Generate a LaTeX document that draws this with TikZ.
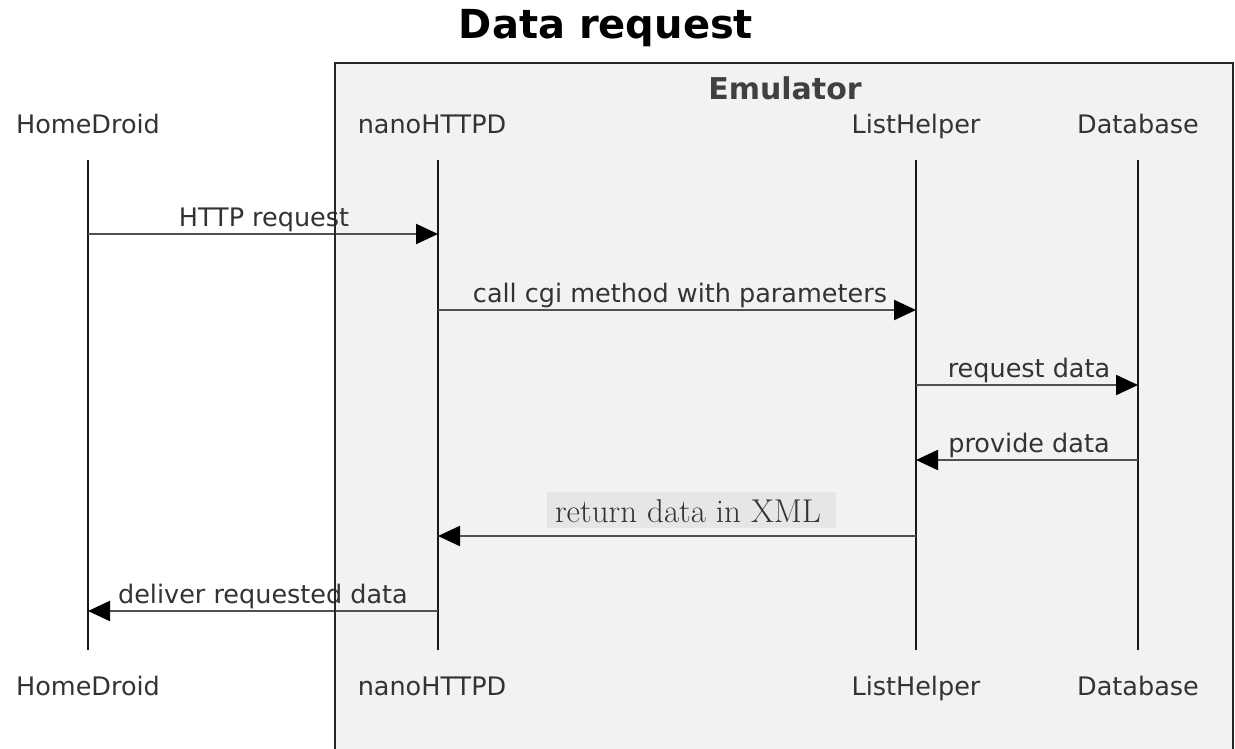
\documentclass[tikz,border=0pt]{standalone}
\usepackage{fontspec}
\setmainfont{DejaVu Sans}
\newfontfamily\lmfont{Latin Modern Roman}
\usetikzlibrary{arrows.meta}
\definecolor{boxfill}{HTML}{F2F2F2}
\definecolor{txt}{HTML}{333333}
\definecolor{msgline}{HTML}{505050}
\definecolor{lblbg}{HTML}{E6E6E6}
\definecolor{emu}{HTML}{404040}
\tikzset{
  actor/.style={font=\fontsize{25.5}{30}\selectfont, text=txt, inner sep=0pt, anchor=base},
  life/.style={draw=black!90, line width=1.6pt},
  msg/.style={draw=msgline, line width=2.2pt, -{Triangle[length=22pt,width=20pt,fill=black,color=black]}},
  msglbl/.style={font=\fontsize{25.5}{30}\selectfont, text=txt, inner sep=0pt, anchor=base},
  frame/.style={draw=black!85, line width=2pt},
}
\begin{document}
\begin{tikzpicture}[x=1pt,y=-1pt]
\useasboundingbox (0,0) rectangle (1235,748);
\fill[white] (0,0) rectangle (1235,748);
% emulator box fill
\fill[boxfill] (335,63) rectangle (1233,760);
% title
\node[font=\fontsize{40}{46}\selectfont\bfseries, text=black, inner sep=0pt, anchor=base] (title) at (606,38) {Data request};
\node[font=\fontsize{30}{34}\selectfont\bfseries, text=emu, inner sep=0pt, anchor=base] (emulator) at (785,99) {Emulator};
% actors top
\node[actor] (hdT) at (88,133) {HomeDroid};
\node[actor] (nhT) at (432,133) {nanoHTTPD};
\node[actor] (lhT) at (916,133) {ListHelper};
\node[actor] (dbT) at (1138,133) {Database};
% actors bottom
\node[actor] (hdB) at (88,695) {HomeDroid};
\node[actor] (nhB) at (432,695) {nanoHTTPD};
\node[actor] (lhB) at (916,695) {ListHelper};
\node[actor] (dbB) at (1138,695) {Database};
% lifeline endpoints
\coordinate (hd1) at (88,160); \coordinate (hd2) at (88,650);
\coordinate (nh1) at (438,160); \coordinate (nh2) at (438,650);
\coordinate (lh1) at (916,160); \coordinate (lh2) at (916,650);
\coordinate (db1) at (1138,160); \coordinate (db2) at (1138,650);
\draw[life] (hd1) -- (hd2);
\draw[life] (nh1) -- (nh2);
\draw[life] (lh1) -- (lh2);
\draw[life] (db1) -- (db2);
% message anchor points
\coordinate (m1a) at (88,234);  \coordinate (m1b) at (438,234);
\coordinate (m2a) at (438,310); \coordinate (m2b) at (916,310);
\coordinate (m3a) at (916,385); \coordinate (m3b) at (1138,385);
\coordinate (m4a) at (1138,460); \coordinate (m4b) at (916,460);
\coordinate (m5a) at (916,536); \coordinate (m5b) at (438,536);
\coordinate (m6a) at (438,611); \coordinate (m6b) at (88,611);
\draw[msg] (m1a) -- (m1b);
\draw[msg] (m2a) -- (m2b);
\draw[msg] (m3a) -- (m3b);
\draw[msg] (m4a) -- (m4b);
\draw[msg] (m5a) -- (m5b);
\draw[msg] (m6a) -- (m6b);
% labels
\node[msglbl] (l1) at (264,226) {HTTP request};
\node[msglbl] (l2) at (680,302) {call cgi method with parameters};
\node[msglbl] (l3) at (1029,377) {request data};
\node[msglbl] (l4) at (1029,452) {provide data};
\fill[lblbg] (547,492) rectangle (836,528);
\node[inner sep=0pt, anchor=base, text=txt, font=\lmfont\fontsize{33}{38}\selectfont] (l5) at (688,522) {return data in XML};
\node[msglbl] (l6) at (263,603) {deliver requested data};
% frame border on top
\draw[frame] (335,760) -- (335,63) -- (1233,63) -- (1233,760);
\end{tikzpicture}
\end{document}
